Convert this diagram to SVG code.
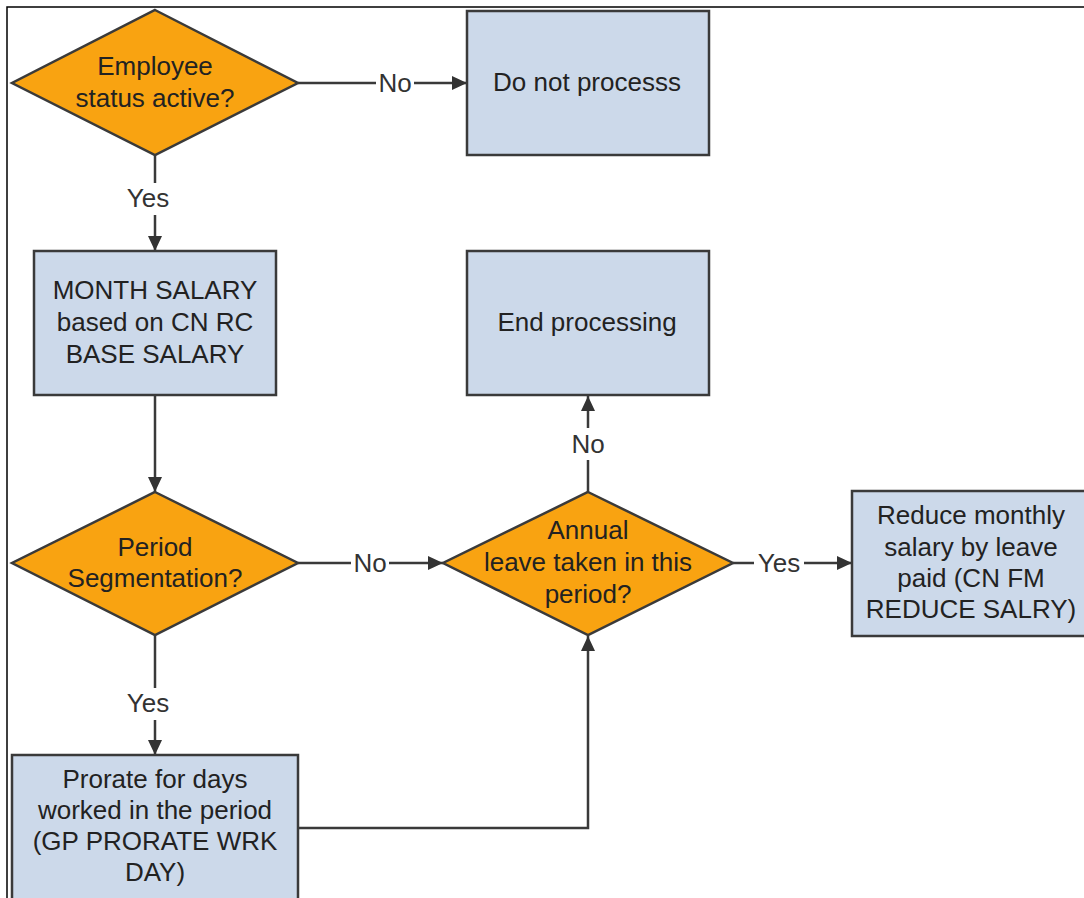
<svg xmlns="http://www.w3.org/2000/svg" width="1084" height="898" viewBox="0 0 1084 898">
<defs>
<marker id="ah" markerWidth="15" markerHeight="14" refX="15" refY="7" orient="auto" markerUnits="userSpaceOnUse">
<path d="M0,0 L15,7 L0,14 Z" fill="#333"/>
</marker>
<style>
.box{fill:#ccd9ea;stroke:#3a3a3a;stroke-width:2.5}
.dia{fill:#f9a311;stroke:#3a3a3a;stroke-width:2.5}
.t{font-family:"Liberation Sans",Arial,sans-serif;font-size:26px;fill:#222;text-anchor:middle}
.c{fill:none;stroke:#3a3a3a;stroke-width:2.5}
.lb{font-family:"Liberation Sans",Arial,sans-serif;font-size:26px;fill:#333;text-anchor:middle}
.bg{fill:#fff}
</style>
</defs>
<rect width="1084" height="898" fill="#fff"/>
<path d="M7,898 L7,7 L1084,7" fill="none" stroke="#000" stroke-width="1.5"/>

<g id="connectors">
<path class="c" d="M298,83 L467,83" marker-end="url(#ah)"/>
<path class="c" d="M155,155 L155,251" marker-end="url(#ah)"/>
<path class="c" d="M155,395 L155,492" marker-end="url(#ah)"/>
<path class="c" d="M298,563 L443,563" marker-end="url(#ah)"/>
<path class="c" d="M588,492 L588,396" marker-end="url(#ah)"/>
<path class="c" d="M733,563 L852,563" marker-end="url(#ah)"/>
<path class="c" d="M155,635 L155,755" marker-end="url(#ah)"/>
<path class="c" d="M298,828 L588,828 L588,636" marker-end="url(#ah)"/>
<rect class="bg" x="376" y="68" width="38" height="30"/>
<text class="lb" x="395" y="92">No</text>
<rect class="bg" x="123" y="183" width="50" height="32"/>
<text class="lb" x="148" y="207">Yes</text>
<rect class="bg" x="351" y="548" width="38" height="30"/>
<text class="lb" x="370" y="572">No</text>
<rect class="bg" x="569" y="428" width="38" height="32"/>
<text class="lb" x="588" y="453">No</text>
<rect class="bg" x="754" y="548" width="50" height="30"/>
<text class="lb" x="779" y="572">Yes</text>
<rect class="bg" x="123" y="688" width="50" height="32"/>
<text class="lb" x="148" y="712">Yes</text>
</g>

<g id="n1">
<polygon class="dia" points="155,10 298,83 155,155 12,83"/>
<text class="t" x="155" y="75">Employee</text>
<text class="t" x="155" y="107">status active?</text>
</g>
<g id="n2">
<rect class="box" x="467" y="11" width="242" height="144"/>
<text class="t" x="587" y="91">Do not processs</text>
</g>
<g id="n3">
<rect class="box" x="34" y="251" width="242" height="144"/>
<text class="t" x="155" y="299">MONTH SALARY</text>
<text class="t" x="155" y="331">based on CN RC</text>
<text class="t" x="155" y="363">BASE SALARY</text>
</g>
<g id="n4">
<polygon class="dia" points="155,492 298,563 155,635 12,563"/>
<text class="t" x="155" y="556">Period</text>
<text class="t" x="155" y="587">Segmentation?</text>
</g>
<g id="n5">
<rect class="box" x="467" y="251" width="242" height="144"/>
<text class="t" x="587" y="331">End processing</text>
</g>
<g id="n6">
<polygon class="dia" points="588,492 733,563 588,635 443,563"/>
<text class="t" x="588" y="539">Annual</text>
<text class="t" x="588" y="571">leave taken in this</text>
<text class="t" x="588" y="603">period?</text>
</g>
<g id="n7">
<rect class="box" x="852" y="491" width="240" height="145"/>
<text class="t" x="971" y="524">Reduce monthly</text>
<text class="t" x="971" y="556">salary by leave</text>
<text class="t" x="971" y="587">paid (CN FM</text>
<text class="t" x="971" y="618">REDUCE SALRY)</text>
</g>
<g id="n8">
<rect class="box" x="12" y="755" width="286" height="160"/>
<text class="t" x="155" y="788">Prorate for days</text>
<text class="t" x="155" y="819">worked in the period</text>
<text class="t" x="155" y="850">(GP PRORATE WRK</text>
<text class="t" x="155" y="881">DAY)</text>
</g>
</svg>
